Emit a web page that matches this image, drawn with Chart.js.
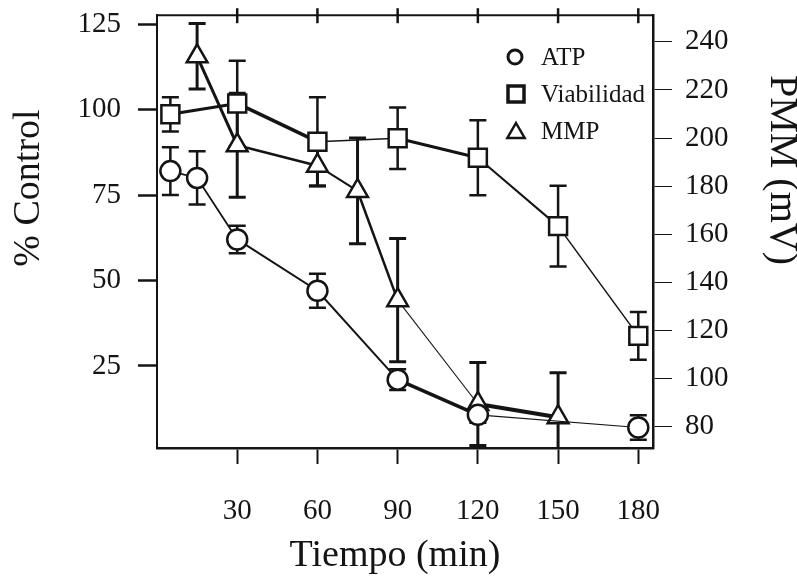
<!DOCTYPE html>
<html><head><meta charset="utf-8">
<script src="https://cdn.jsdelivr.net/npm/chart.js"></script>
<style>html,body{margin:0;padding:0;background:#fff}canvas{display:block}</style>
</head><body>
<canvas id="c" width="797" height="576"></canvas>
<script>
// ---- data ----
const atpTime  = [5, 15, 30, 60, 90, 120, 180];
const atpValue = [82, 80, 62, 47, 21, 10.7, 7];
const atpError = [7, 7.8, 4, 5, 3, 2.3, 3.6];

const viabTime  = [5, 30, 60, 90, 120, 150, 180];
const viabValue = [98.6, 101.8, 90.6, 91.6, 85.9, 65.9, 33.8];
const viabError = [5, 12.5, 13, 9, 11, 11.8, 7];

const mmpTime  = [15, 30, 60, 75, 90, 120, 150];
const mmpValue = [234, 197, 188.5, 178, 132.6, 89.4, 83.9];
const mmpError = [13.6, 21.6, 8.3, 22, 25.6, 17.3, 18.5];

const xTicks     = [30, 60, 90, 120, 150, 180];
const leftTicks  = [25, 50, 75, 100, 125];
const rightTicks = [80, 100, 120, 140, 160, 180, 200, 220, 240];

const seriesNames = ['ATP', 'Viabilidad', 'MMP'];
const xTitle = 'Tiempo (min)';
const yTitle = '% Control';
const y2Title = 'PMM (mV)';

// ---- styles ----
const INK = '#141414';
const SERIF = "'Liberation Serif', 'DejaVu Serif', serif";
const atpSegW  = [1.8, 1.8, 2, 2, 3.5, 1.2];
const viabSegW = [3, 3.5, 1.5, 3, 2, 1.5];
const mmpSegW  = [3, 2.5, 2, 2.5, 1.1, 4];

function pts(t, v, e) { return t.map((x, i) => ({ x: x, y: v[i], e: e[i] })); }

const errorBars = {
  id: 'errorBars',
  beforeDatasetsDraw(chart) {
    const ctx = chart.ctx, a = chart.chartArea;
    ctx.save();
    ctx.beginPath(); ctx.rect(a.left, a.top, a.right - a.left, a.bottom - a.top); ctx.clip();
    chart.data.datasets.forEach(ds => {
      const xs = chart.scales.x, ys = chart.scales[ds.yAxisID];
      ctx.strokeStyle = INK; ctx.lineWidth = ds.errWidth; ctx.lineCap = 'butt';
      ds.data.forEach(p => {
        const x = xs.getPixelForValue(p.x);
        const y1 = ys.getPixelForValue(p.y + p.e), y2 = ys.getPixelForValue(p.y - p.e);
        ctx.beginPath();
        ctx.moveTo(x, y1); ctx.lineTo(x, y2);
        ctx.moveTo(x - 8.5, y1); ctx.lineTo(x + 8.5, y1);
        ctx.moveTo(x - 8.5, y2); ctx.lineTo(x + 8.5, y2);
        ctx.stroke();
      });
    });
    ctx.restore();
  }
};

function drawMarker(ctx, style, x, y, r, lw) {
  ctx.save();
  ctx.lineWidth = lw; ctx.strokeStyle = INK; ctx.fillStyle = '#fff';
  ctx.beginPath();
  if (style === 'circle') ctx.arc(x, y, r, 0, Math.PI * 2);
  else if (style === 'rect') ctx.rect(x - r, y - r, 2 * r, 2 * r);
  else { ctx.moveTo(x, y - r); ctx.lineTo(x + r * 0.866, y + r * 0.5); ctx.lineTo(x - r * 0.866, y + r * 0.5); ctx.closePath(); }
  ctx.fill(); ctx.stroke();
  ctx.restore();
}

const decor = {
  id: 'decor',
  afterDraw(chart) {
    const ctx = chart.ctx, a = chart.chartArea, xs = chart.scales.x;
    ctx.save();
    // top frame + crossing ticks
    ctx.strokeStyle = INK; ctx.lineWidth = 2;
    ctx.beginPath(); ctx.moveTo(a.left - 1, a.top); ctx.lineTo(a.right + 1, a.top); ctx.stroke();
    ctx.lineWidth = 2.5;
    xTicks.forEach(v => {
      const x = xs.getPixelForValue(v);
      ctx.beginPath(); ctx.moveTo(x, a.top - 7); ctx.lineTo(x, a.top + 8); ctx.stroke();
    });
    // axis titles
    ctx.fillStyle = INK;
    ctx.textAlign = 'center'; ctx.textBaseline = 'middle';
    ctx.font = '38px ' + SERIF;
    ctx.fillText(xTitle, 395, 556);
    ctx.save(); ctx.translate(29, 188); ctx.rotate(-Math.PI / 2); ctx.fillText(yTitle, 0, 0); ctx.restore();
    ctx.font = '40px ' + SERIF;
    ctx.save(); ctx.translate(781, 170); ctx.rotate(Math.PI / 2); ctx.fillText(y2Title, 0, 0); ctx.restore();
    // legend
    const styles = ['circle', 'rect', 'triangle'];
    const rows = [57, 94, 131];
    ctx.font = '25px ' + SERIF; ctx.textAlign = 'left'; ctx.textBaseline = 'middle';
    seriesNames.forEach((n, i) => {
      if (styles[i] === 'circle') drawMarker(ctx, 'circle', 515, rows[i], 7, 3);
      else if (styles[i] === 'rect') drawMarker(ctx, 'rect', 516, rows[i], 8, 3.5);
      else drawMarker(ctx, 'triangle', 516, rows[i] + 2, 10, 2.5);
      ctx.fillStyle = INK;
      ctx.fillText(n, 541, rows[i] + 1);
    });
    ctx.restore();
  }
};

function tickSet(list) { return function (s) { s.ticks = list.map(v => ({ value: v })); }; }
function noPad(s) { s.paddingTop = 0; s.paddingBottom = 0; s.paddingLeft = 0; s.paddingRight = 0; }

new Chart(document.getElementById('c'), {
  type: 'line',
  data: {
    datasets: [
      { label: seriesNames[0], data: pts(atpTime, atpValue, atpError), yAxisID: 'y',
        borderColor: INK, backgroundColor: '#fff', pointStyle: 'circle', pointRadius: 10,
        pointBorderWidth: 2.5, pointBackgroundColor: '#fff', pointBorderColor: INK, errWidth: 2.5,
        segment: { borderWidth: c => atpSegW[c.p0DataIndex] } },
      { label: seriesNames[1], data: pts(viabTime, viabValue, viabError), yAxisID: 'y',
        borderColor: INK, backgroundColor: '#fff', pointStyle: 'rect', pointRadius: 12.7,
        pointBorderWidth: 2.5, pointBackgroundColor: '#fff', pointBorderColor: INK, errWidth: 2.5,
        segment: { borderWidth: c => viabSegW[c.p0DataIndex] } },
      { label: seriesNames[2], data: pts(mmpTime, mmpValue, mmpError), yAxisID: 'y2',
        borderColor: INK, backgroundColor: '#fff', pointStyle: 'triangle', pointRadius: 12,
        pointBorderWidth: 2.5, pointBackgroundColor: '#fff', pointBorderColor: INK, errWidth: 3,
        segment: { borderWidth: c => mmpSegW[c.p0DataIndex] } }
    ]
  },
  options: {
    responsive: false, animation: false, devicePixelRatio: 1,
    layout: { padding: { top: 15, left: 0, right: 0, bottom: 0 } },
    plugins: { legend: { display: false }, tooltip: { enabled: false } },
    elements: { line: { tension: 0, borderWidth: 2 }, point: { hoverRadius: 10 } },
    scales: {
      x: { type: 'linear', position: 'bottom', min: 0, max: 185.5,
        afterBuildTicks: tickSet(xTicks),
        afterFit: s => { s.height = 128; noPad(s); },
        ticks: { font: { family: SERIF, size: 29 }, color: INK, padding: 30, maxRotation: 0 },
        grid: { drawOnChartArea: false, drawTicks: true, tickLength: 16, tickWidth: 2, tickColor: INK, color: INK },
        border: { display: true, width: 2.5, color: INK } },
      y: { type: 'linear', position: 'left', min: 1, max: 127.6,
        afterBuildTicks: tickSet(leftTicks),
        afterFit: s => { s.width = 157; noPad(s); },
        ticks: { font: { family: SERIF, size: 29 }, color: INK, padding: 17 },
        grid: { drawOnChartArea: false, drawTicks: true, tickLength: 19, tickWidth: 2.5, tickColor: INK, color: INK },
        border: { display: true, width: 2, color: INK } },
      y2: { type: 'linear', position: 'right', min: 71.1, max: 251.1,
        afterBuildTicks: tickSet(rightTicks),
        afterFit: s => { s.width = 144; noPad(s); },
        ticks: { font: { family: SERIF, size: 29 }, color: INK, padding: 13 },
        grid: { drawOnChartArea: false, drawTicks: true, tickLength: 19, tickWidth: 1, tickColor: INK, color: INK },
        border: { display: true, width: 2.5, color: INK } }
    }
  },
  plugins: [errorBars, decor]
});
</script>
</body></html>
